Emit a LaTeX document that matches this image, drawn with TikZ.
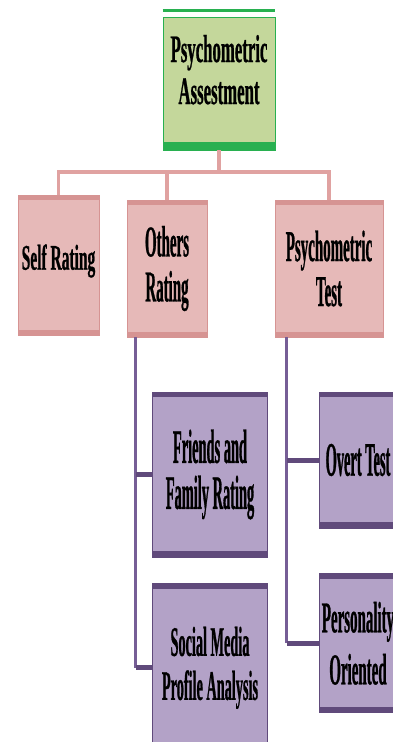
\documentclass[tikz,border=0pt]{standalone}
\usepackage{fontspec}
\newfontfamily\widefont[FakeStretch=0.43,FakeBold=0.6]{Liberation Serif}
\newfontfamily\midfont[FakeStretch=0.34,FakeBold=0.6]{Liberation Serif}
\newfontfamily\narrowfont[FakeStretch=0.30,FakeBold=0.6]{Liberation Serif}
\usepackage{tikz}
\usetikzlibrary{positioning}

\definecolor{greenfill}{RGB}{196,215,155}
\definecolor{greenbar}{RGB}{40,176,80}
\definecolor{pinkfill}{RGB}{230,185,184}
\definecolor{pinkbar}{RGB}{214,148,147}
\definecolor{pinkline}{RGB}{224,162,161}
\definecolor{purplefill}{RGB}{179,162,199}
\definecolor{purplebar}{RGB}{96,74,123}
\definecolor{purpleline}{RGB}{118,94,150}

\begin{document}
\begin{tikzpicture}[x=1pt, y=-1pt,
  box/.style={line width=0.8pt, align=center, inner sep=0pt,
    font=\midfont\bfseries\fontsize{44}{45}\selectfont},
  bars/.style n args={3}{path picture={
    \fill[#1] (path picture bounding box.north west) rectangle ([yshift=-#2pt]path picture bounding box.north east);
    \fill[#1] (path picture bounding box.south west) rectangle ([yshift=#3pt]path picture bounding box.south east);}},
  rootbox/.style={box, draw=greenbar, fill=greenfill, bars={greenbar}{0}{8}},
  pinkbox/.style={box, draw=pinkbar, fill=pinkfill, bars={pinkbar}{5}{5}},
  purplebox/.style={box, draw=purplebar, fill=purplefill, bars={purplebar}{5}{6}},
  link/.style={draw=pinkline, line width=3.5pt},
  trunk/.style={draw=purpleline, line width=2.5pt},
  stub/.style={draw=purplebar, line width=5pt}
]
\useasboundingbox (0,0) rectangle (393,742);
\clip (0,0) rectangle (393,742);

% top level
\node[rootbox, minimum width=112pt, minimum height=133pt, text depth=28pt,
  font=\widefont\bfseries\fontsize{39}{42}\selectfont] (root) at (219,83.5) {Psychometric\\Assestment};
\draw[greenbar, line width=2.5pt] ([yshift=6pt]root.north west) -- ([yshift=6pt]root.north east);

% second level
\node[pinkbox, minimum width=81pt, minimum height=140pt, text depth=16pt,
  font=\widefont\bfseries\fontsize{36}{40}\selectfont] (self) at (58.5,265) {Self Rating};
\node[pinkbox, minimum width=80pt, minimum height=137pt] (others) at (167,268.5) {Others\\Rating};
\node[pinkbox, minimum width=108pt, minimum height=137pt] (ptest) at (329,268.5) {Psychometric\\Test};

% third level
\node[purplebox, minimum width=115pt, minimum height=165pt,
  font=\narrowfont\bfseries\fontsize{48}{46}\selectfont] (friends) at (210,474.5) {Friends and\\Family Rating};
\node[purplebox, minimum width=115pt, minimum height=168pt, below=26pt of friends,
  font=\midfont\bfseries\fontsize{42}{44}\selectfont] (social) {Social Media\\Profile Analysis};
\node[purplebox, minimum width=78pt, minimum height=136pt,
  font=\narrowfont\bfseries\fontsize{48}{46}\selectfont] (overt) at (358,460) {Overt Test};
\node[purplebox, minimum width=78pt, minimum height=139pt, below=45pt of overt,
  font=\midfont\bfseries\fontsize{44}{52}\selectfont] (person) {Personality\\Oriented};

% connectors
\coordinate (bus) at (219,172);
\draw[link] (root.south) -- (bus);
\draw[link] (bus) -| (self.north);
\draw[link] (bus) -| (others.north);
\draw[link] (bus) -| (ptest.north);

\coordinate (ot) at ([xshift=9pt]others.south west);
\draw[trunk] (ot) -- (ot |- social.west);
\draw[stub] (ot |- friends.west) -- (friends.west);
\draw[stub] (ot |- social.west) -- (social.west);

\coordinate (pt) at ([xshift=12pt]ptest.south west);
\draw[trunk] (pt) -- (pt |- person.west);
\draw[stub] (pt |- overt.west) -- (overt.west);
\draw[stub] (pt |- person.west) -- (person.west);
\end{tikzpicture}
\end{document}
